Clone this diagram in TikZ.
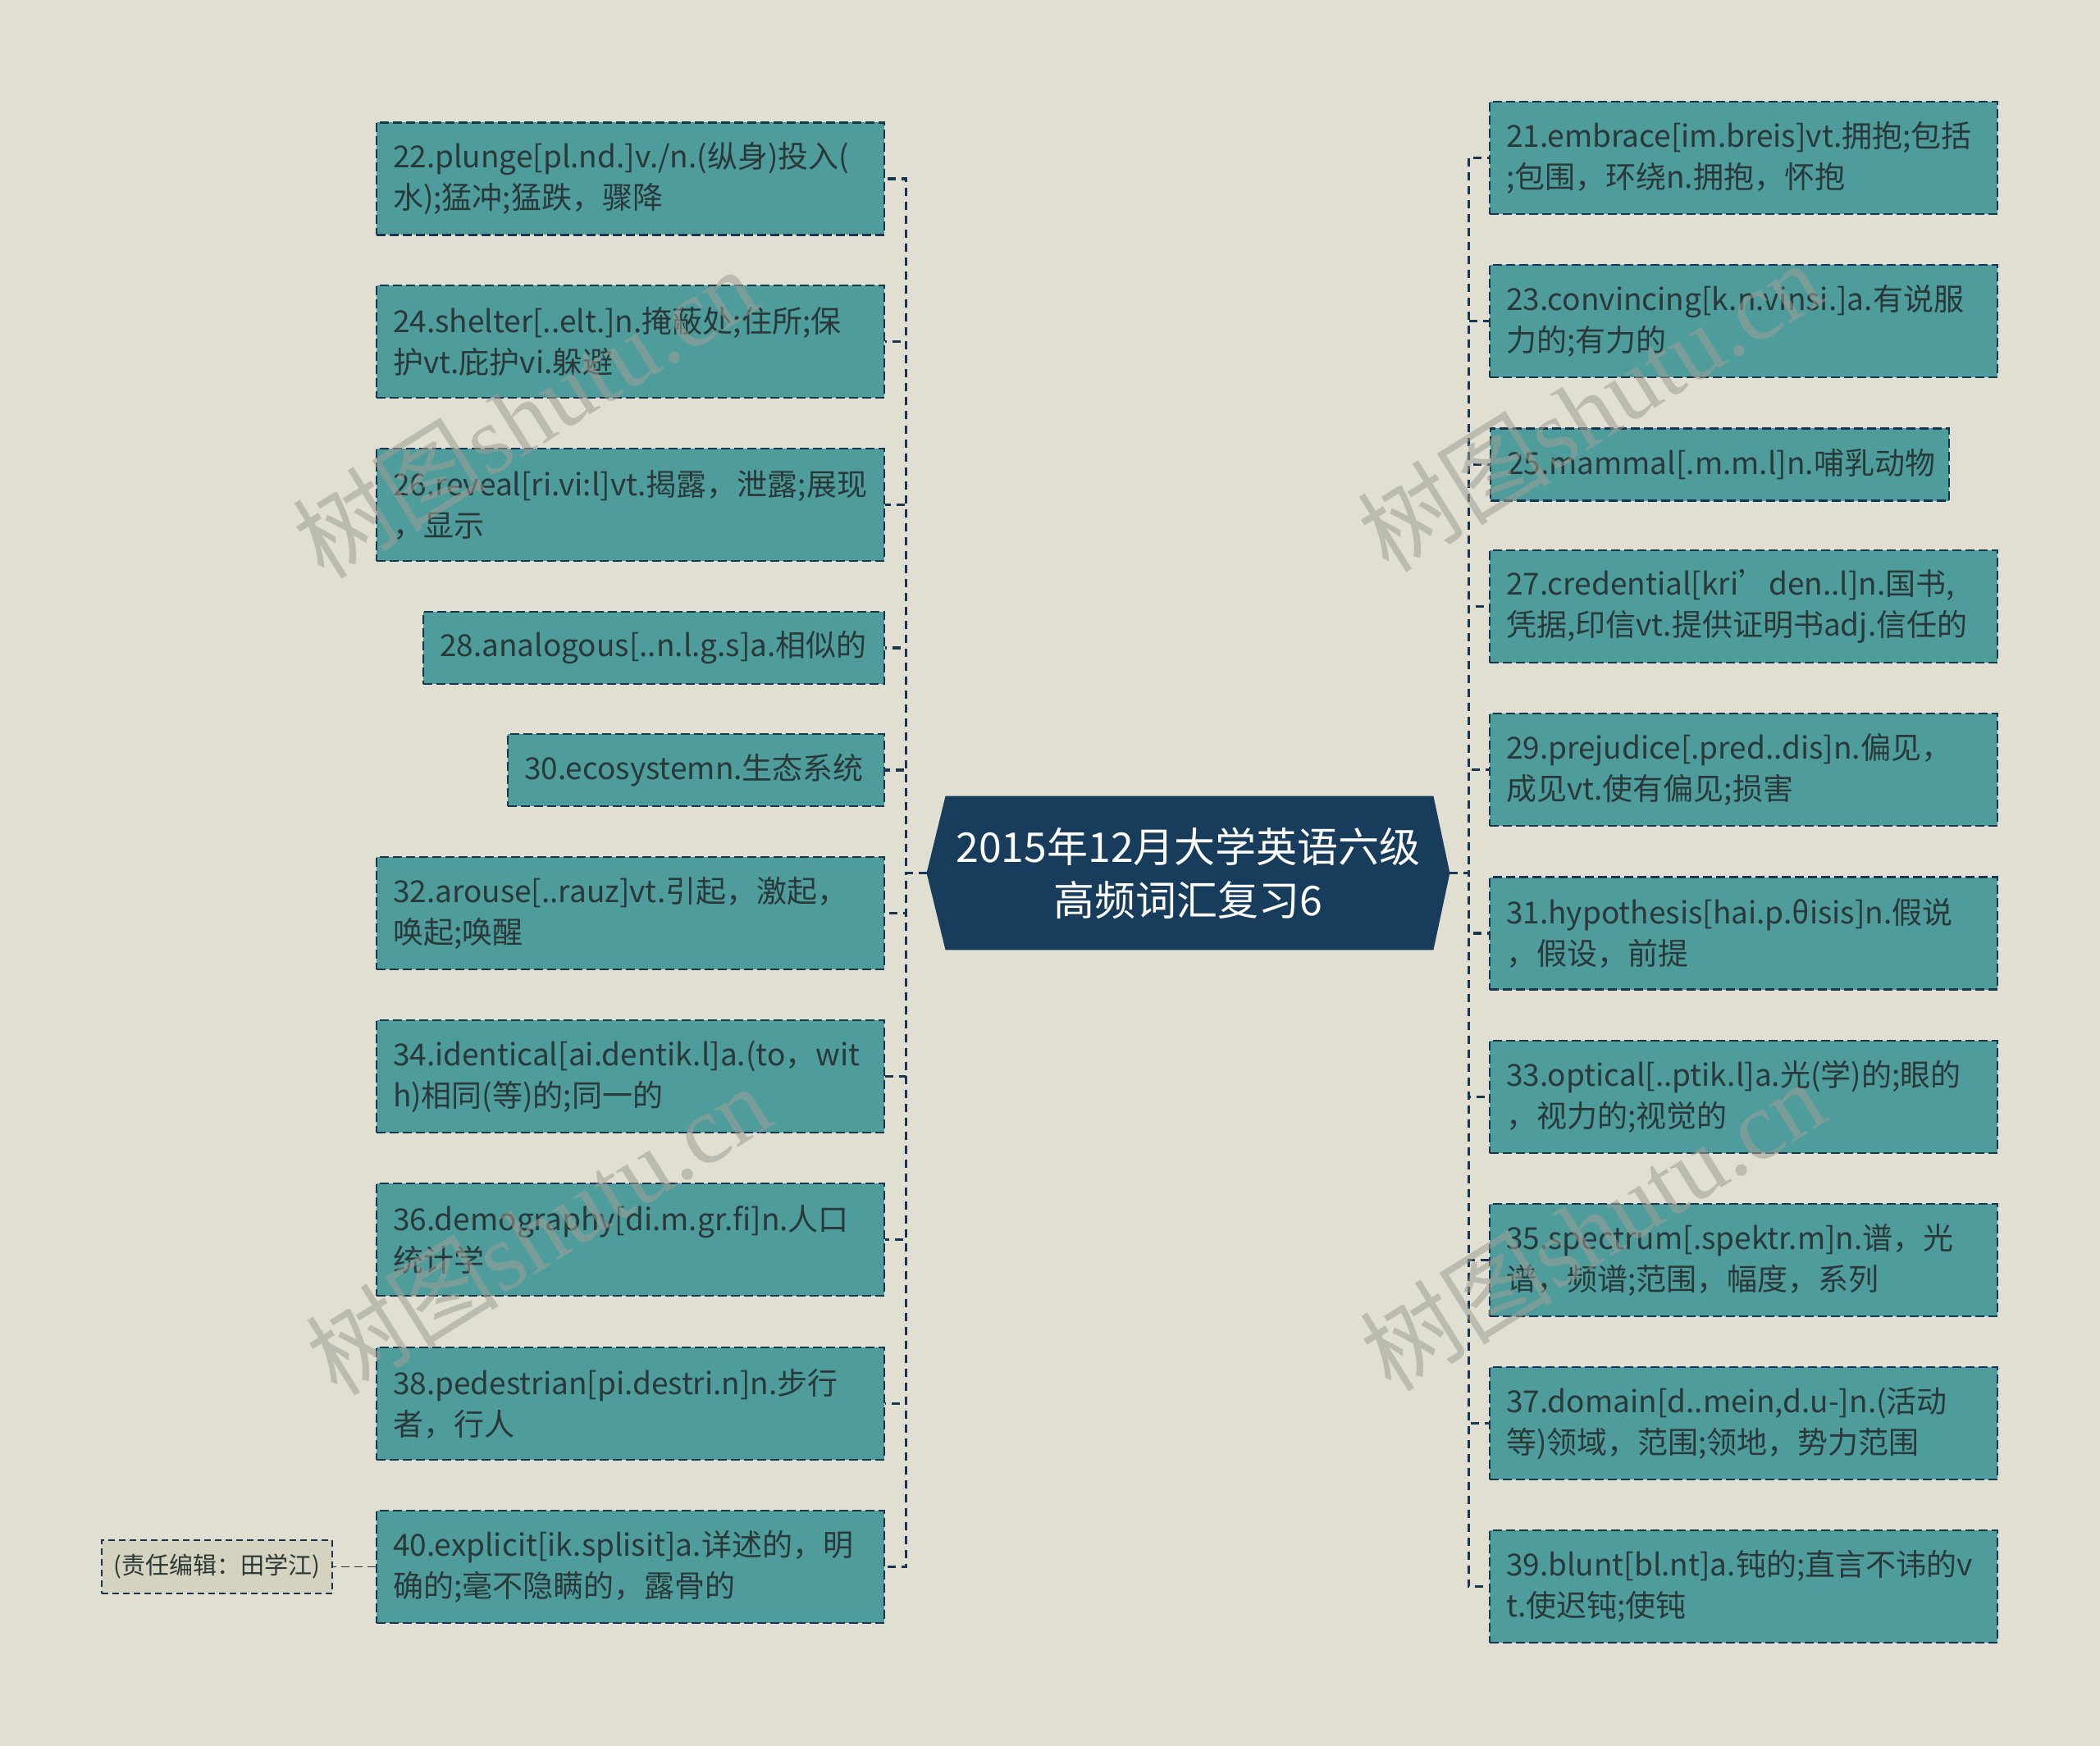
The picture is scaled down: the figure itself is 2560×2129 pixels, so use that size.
\documentclass[tikz,border=0pt]{standalone}
\usepackage{fontspec}
\setmainfont{Noto Sans CJK SC}
\newfontfamily\cjk{Noto Sans CJK SC}
\newfontfamily\wmserif{Liberation Serif}
\usetikzlibrary{backgrounds}
\definecolor{bgc}{HTML}{E0DFD2}
\definecolor{boxc}{HTML}{4E9C9C}
\definecolor{navy}{HTML}{173C5C}
\definecolor{edgec}{HTML}{1A3550}
\definecolor{txtc}{HTML}{2A3838}
\definecolor{edfill}{HTML}{D5D3C0}
\definecolor{wmc}{HTML}{A09F94}
\tikzset{
  leaf/.style={draw=edgec, line width=1.2pt, dash pattern=on 5.5pt off 2.5pt,
    fill=boxc, text=txtc, font=\cjk\fontsize{18.5}{25}\selectfont,
    align=left, inner xsep=10pt, inner ysep=0pt, anchor=center},
  two/.style={minimum height=68.5pt},
  one/.style={minimum height=44pt},
  wide/.style={text width=289.5pt},
  conn/.style={draw=edgec, line width=1.8pt, dash pattern=on 5pt off 3.5pt},
  thinconn/.style={draw=edgec, line width=0.8pt, dash pattern=on 5pt off 3pt},
  centerbox/.style={text=white, font=\cjk\fontsize{25}{32.5}\selectfont,
    align=center, minimum width=318.5pt, minimum height=93.5pt, inner sep=0pt},
  editor/.style={draw=edgec, line width=0.8pt, dash pattern=on 4pt off 2.5pt,
    fill=edfill, text=txtc, font=\cjk\fontsize{14.5}{17}\selectfont,
    minimum width=140.5pt, minimum height=32.5pt, inner sep=0pt},
  wmark/.style={text=wmc, opacity=0.55, rotate=32, font=\fontsize{59}{61}\selectfont}
}
\begin{document}
\begin{tikzpicture}[x=0.5pt,y=-0.5pt]
\begin{scope}[on background layer]
  \fill[bgc] (0,0) rectangle (2560,2129);
\end{scope}
\useasboundingbox (0,0) rectangle (2560,2129);

% center
\node[centerbox] (c) at (1448.5,1064.5) {2015年12月大学英语六级\\高频词汇复习6};
\begin{scope}[on background layer]
  \fill[navy] (c.west) -- ([xshift=11.5pt]c.north west) -- ([xshift=-10pt]c.north east)
    -- (c.east) -- ([xshift=-10pt]c.south east) -- ([xshift=11.5pt]c.south west) -- cycle;
\end{scope}

% left boxes
\node[leaf,two,wide] (b22) at (768.5,218) {22.plunge[pl.nd.]v./n.(纵身)投入(\\水);猛冲;猛跌，骤降};
\node[leaf,two,wide] (b24) at (768.5,416.5) {24.shelter[..elt.]n.掩蔽处;住所;保\\护vt.庇护vi.躲避};
\node[leaf,two,wide] (b26) at (768.5,615.5) {26.reveal[ri.vi:l]vt.揭露，泄露;展现\\，显示};
\node[leaf,one,text width=261pt] (b28) at (797,790) {28.analogous[..n.l.g.s]a.相似的};
\node[leaf,one,text width=209.5pt] (b30) at (848.5,939) {30.ecosystemn.生态系统};
\node[leaf,two,wide] (b32) at (768.5,1113.5) {32.arouse[..rauz]vt.引起，激起，\\唤起;唤醒};
\node[leaf,two,wide] (b34) at (768.5,1312.5) {34.identical[ai.dentik.l]a.(to，wit\\h)相同(等)的;同一的};
\node[leaf,two,wide] (b36) at (768.5,1511.5) {36.demography[di.m.gr.fi]n.人口\\统计学};
\node[leaf,two,wide] (b38) at (768.5,1711.5) {38.pedestrian[pi.destri.n]n.步行\\者，行人};
\node[leaf,two,wide] (b40) at (768.5,1910.5) {40.explicit[ik.splisit]a.详述的，明\\确的;毫不隐瞒的，露骨的};
\node[editor] (ed) at (264.5,1910.5) {(责任编辑：田学江)};

% right boxes
\node[leaf,two,wide] (b21) at (2125.5,192.5) {21.embrace[im.breis]vt.拥抱;包括\\;包围，环绕n.拥抱，怀抱};
\node[leaf,two,wide] (b23) at (2125.5,391.5) {23.convincing[k.n.vinsi.]a.有说服\\力的;有力的};
\node[leaf,one,text width=259.5pt] (b25) at (2096.5,566.5) {25.mammal[.m.m.l]n.哺乳动物};
\node[leaf,two,wide] (b27) at (2125.5,739.5) {27.credential[kri’den..l]n.国书,\\凭据,印信vt.提供证明书adj.信任的};
\node[leaf,two,wide] (b29) at (2125.5,938.5) {29.prejudice[.pred..dis]n.偏见，\\成见vt.使有偏见;损害};
\node[leaf,two,wide] (b31) at (2125.5,1138) {31.hypothesis[hai.p.θisis]n.假说\\，假设，前提};
\node[leaf,two,wide] (b33) at (2125.5,1337.5) {33.optical[..ptik.l]a.光(学)的;眼的\\，视力的;视觉的};
\node[leaf,two,wide] (b35) at (2125.5,1536.5) {35.spectrum[.spektr.m]n.谱，光\\谱，频谱;范围，幅度，系列};
\node[leaf,two,wide] (b37) at (2125.5,1735.5) {37.domain[d..mein,d.u-]n.(活动\\等)领域，范围;领地，势力范围};
\node[leaf,two,wide] (b39) at (2125.5,1934.5) {39.blunt[bl.nt]a.钝的;直言不讳的v\\t.使迟钝;使钝};

% connectors left
\foreach \n in {22,24,26,28,30,32,34,36,38,40}
  \draw[conn] (c.west) -- ++(-25,0) |- (b\n.east);
% connectors right
\foreach \n in {21,23,25,27,29,31,33,35,37,39}
  \draw[conn] (c.east) -- ++(23,0) |- (b\n.west);
\draw[thinconn] (b40.west) -- (ed.east);

% watermarks
\node[wmark] (w1) at (640,503) {\cjk 树图\wmserif shutu.cn};
\node[wmark] (w2) at (656,1499) {\cjk 树图\wmserif shutu.cn};
\node[wmark] (w3) at (1938,495) {\cjk 树图\wmserif shutu.cn};
\node[wmark] (w4) at (1941,1494) {\cjk 树图\wmserif shutu.cn};
\end{tikzpicture}
\end{document}
